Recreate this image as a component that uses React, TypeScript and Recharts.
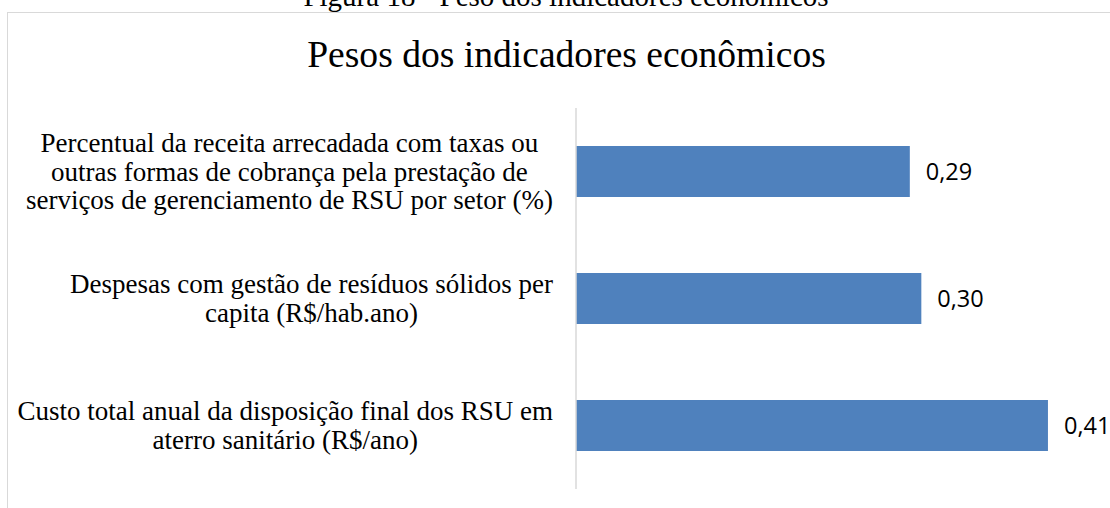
import { BarChart, Bar, XAxis, YAxis, LabelList } from 'recharts';

const caption = 'Figura 18 - Peso dos indicadores econômicos';
const title = 'Pesos dos indicadores econômicos';

// categories top to bottom, line breaks as in the original
const categories = [
  'Percentual da receita arrecadada com taxas ou\noutras formas de cobrança pela prestação de\nserviços de gerenciamento de RSU por setor (%)',
  'Despesas com gestão de resíduos sólidos per\ncapita (R$/hab.ano)',
  'Custo total anual da disposição final dos RSU em\naterro sanitário (R$/ano)',
];
const weights = [0.29, 0.3, 0.41];

const data = categories.map((name, i) => ({ name, value: weights[i] }));

const SERIF = '"Liberation Serif", "Times New Roman", serif';
const SANS = '"Open Sans", "Noto Sans", sans-serif';
const LABEL_SIZE = 27;

let ctx: CanvasRenderingContext2D | null = null;
function textWidth(s: string) {
  if (!ctx) ctx = document.createElement('canvas').getContext('2d');
  if (!ctx) return s.length * 11.5;
  ctx.font = `${LABEL_SIZE}px ${SERIF}`;
  return ctx.measureText(s).width;
}

function CategoryTick(props: any) {
  const { x, y, payload } = props;
  const lines = String(payload.value).split('\n');
  const maxW = Math.max(...lines.map(textWidth));
  const cx = x - maxW / 2;
  const lh = 28.5;
  return (
    <g>
      {lines.map((l, i) => (
        <text key={i} x={cx} y={y + 9 + (i - (lines.length - 1) / 2) * lh}
          textAnchor="middle" fill="#000" fontSize={LABEL_SIZE} fontFamily={SERIF}>
          {l}
        </text>
      ))}
    </g>
  );
}

export default function App() {
  return (
    <div style={{ position: 'absolute', left: 0, top: 0, width: 1110, height: 508, overflow: 'hidden', background: '#fff' }}>
      <div style={{ position: 'absolute', left: 7, top: 12, width: 1200, height: 600, border: '1px solid #d9d9d9' }} />
      <svg width={1110} height={90} style={{ position: 'absolute', left: 0, top: 0 }}>
        <text x={566} y={6} textAnchor="middle" fontSize={29} fontFamily={SERIF} fill="#000">{caption}</text>
        <text x={566.5} y={66.5} textAnchor="middle" fontSize={37.6} fontFamily={SERIF} fill="#000">{title}</text>
      </svg>
      <div style={{ position: 'absolute', left: 0, top: 0 }}>
        <BarChart width={1110} height={508} data={data} layout="vertical"
          barCategoryGap="30%" margin={{ top: 108, right: 16, bottom: 19, left: 0 }}>
          <XAxis type="number" domain={[0, 0.45]} hide />
          <YAxis type="category" dataKey="name" width={576} tickLine={false} tickSize={0} tickMargin={23}
            axisLine={{ stroke: '#d9d9d9', strokeWidth: 1.5 }} tick={<CategoryTick />} interval={0} />
          <Bar dataKey="value" fill="#4f81bd" isAnimationActive={false}>
            <LabelList dataKey="value" position="right" offset={16}
              formatter={(v: any) => Number(v).toFixed(2).replace('.', ',')}
              fill="#000" fontSize={23.5} fontFamily={SANS} />
          </Bar>
        </BarChart>
      </div>
    </div>
  );
}
